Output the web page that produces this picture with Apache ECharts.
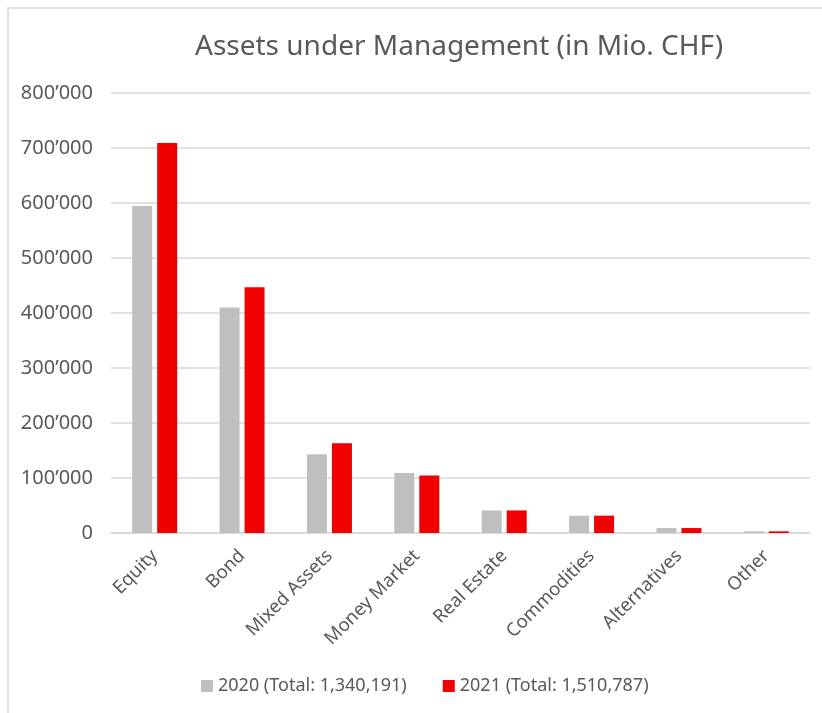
<!DOCTYPE html>
<html>
<head>
<meta charset="utf-8">
<script src="https://cdn.jsdelivr.net/npm/echarts@6/dist/echarts.min.js"></script>
<style>
  html, body { margin: 0; padding: 0; background: #fff; }
  #chart { width: 822px; height: 713px; }
</style>
</head>
<body>
<div id="chart"></div>
<script>
// values in Mio. CHF
const categories = ['Equity', 'Bond', 'Mixed Assets', 'Money Market', 'Real Estate', 'Commodities', 'Alternatives', 'Other'];
const aum2020 = [594500, 410000, 143400, 109000, 41000, 31400, 9000, 3000];
const aum2021 = [709000, 446600, 163400, 104600, 41000, 31500, 9000, 3000];
const seriesNames = ['2020 (Total: 1,340,191)', '2021 (Total: 1,510,787)'];
const yTicks = [0, 100000, 200000, 300000, 400000, 500000, 600000, 700000, 800000];

const textColor = '#595959';
const fontFamily = 'Noto Sans, sans-serif';

function swissFormat(v) {
    return String(v).replace(/\B(?=(\d{3})+(?!\d))/g, '\u2019');
}

const dom = document.getElementById('chart');
const myChart = echarts.init(dom);
const option = {
    animation: false,
    textStyle: { fontFamily: fontFamily },
    graphic: [{
        type: 'rect',
        shape: { x: 8, y: 8, width: 830, height: 720 },
        style: { fill: 'none', stroke: '#d9d9d9', lineWidth: 1.5 },
        silent: true
    }],
    title: {
        text: 'Assets under Management (in Mio. CHF)',
        left: 190,
        top: 28,
        textStyle: { color: textColor, fontSize: 28, fontWeight: 'normal', fontFamily: fontFamily }
    },
    legend: {
        data: seriesNames,
        bottom: 13,
        left: 196,
        itemWidth: 12,
        itemHeight: 12,
        itemGap: 36,
        icon: 'rect',
        textStyle: { color: textColor, fontSize: 18 }
    },
    grid: {
        left: 111,
        right: 12,
        top: 93,
        bottom: 180,
        containLabel: false
    },
    xAxis: {
        type: 'category',
        data: categories,
        axisLine: { lineStyle: { color: '#d9d9d9', width: 1.5 } },
        axisTick: { show: false },
        axisLabel: {
            rotate: 45,
            color: textColor,
            fontSize: 18.5,
            margin: 20,
            interval: 0
        }
    },
    yAxis: {
        type: 'value',
        min: yTicks[0],
        max: yTicks[yTicks.length - 1],
        interval: yTicks[1] - yTicks[0],
        axisLine: { show: false },
        axisTick: { show: false },
        splitLine: { lineStyle: { color: '#d9d9d9', width: 1.5 } },
        axisLabel: {
            color: textColor,
            fontSize: 20,
            margin: 18,
            formatter: swissFormat
        }
    },
    series: [{
        name: seriesNames[0],
        type: 'bar',
        data: aum2020,
        barWidth: 20,
        barGap: '25%',
        itemStyle: { color: '#bfbfbf' }
    }, {
        name: seriesNames[1],
        type: 'bar',
        data: aum2021,
        barWidth: 20,
        barGap: '25%',
        itemStyle: { color: '#f00000' }
    }]
};
myChart.setOption(option, true);
</script>
</body>
</html>
